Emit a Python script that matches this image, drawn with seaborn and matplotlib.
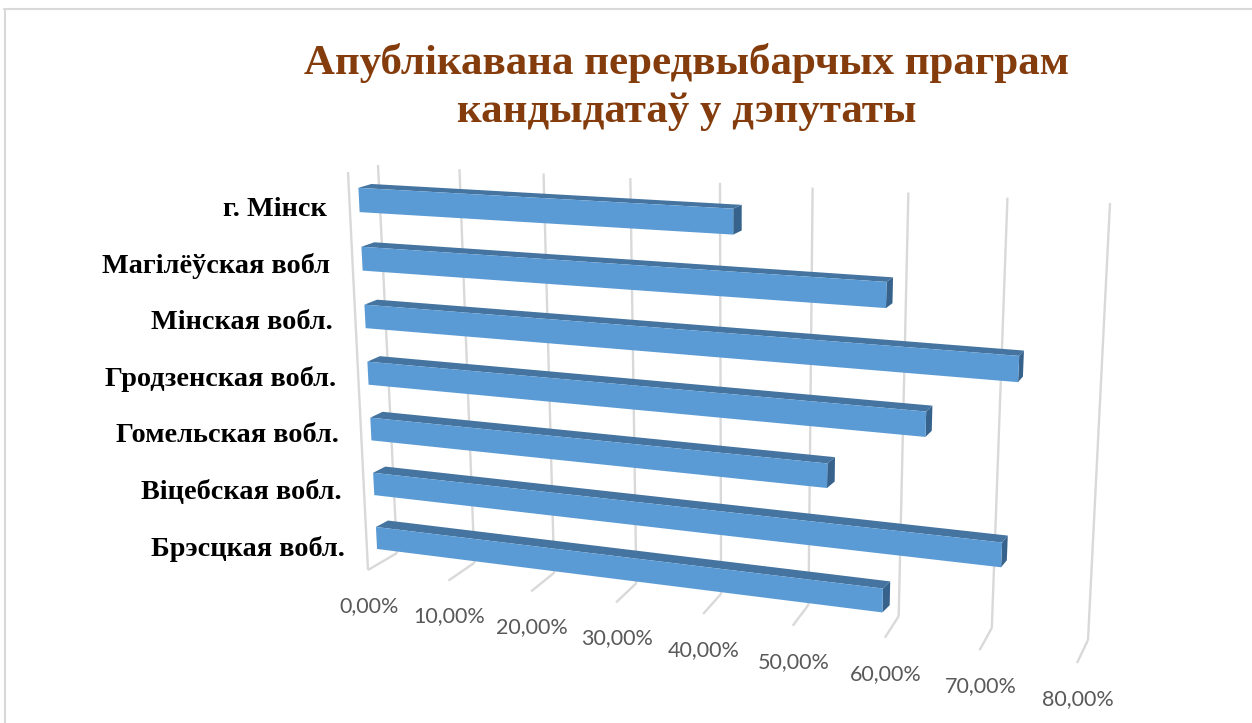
import numpy as np
import pandas as pd
import matplotlib
matplotlib.use("Agg")
import matplotlib.pyplot as plt
from matplotlib.lines import Line2D
from matplotlib.transforms import Transform
import seaborn as sns

# ---------- data ----------
regions = ["г. Мінск", "Магілёўская вобл", "Мінская вобл.", "Гродзенская вобл.",
           "Гомельская вобл.", "Віцебская вобл.", "Брэсцкая вобл."]
shares = [43.0, 59.1, 72.6, 63.5, 53.3, 71.7, 59.5]
tick_values = [0, 10, 20, 30, 40, 50, 60, 70, 80]
tick_labels = ["0,00%", "10,00%", "20,00%", "30,00%", "40,00%", "50,00%", "60,00%", "70,00%", "80,00%"]
title_text = "Апублікавана передвыбарчых праграм\nкандыдатаў у дэпутаты"

# ---------- styles ----------
W, H_PX = 1252, 723
FACE, TOP, SIDE = "#5B9BD5", "#44749F", "#36628C"
GRID = "#D9D9D9"
BAR_W = 0.41


def homography(src, dst):
    A, b = [], []
    for (x, y), (u, v) in zip(src, dst):
        A.append([x, y, 1, 0, 0, 0, -u * x, -u * y]); b.append(u)
        A.append([0, 0, 0, x, y, 1, -v * x, -v * y]); b.append(v)
    h = np.linalg.solve(np.array(A, float), np.array(b, float))
    return np.append(h, 1).reshape(3, 3)


def apply(Hm, xy):
    xy = np.atleast_2d(np.asarray(xy, float))
    p = np.c_[xy, np.ones(len(xy))] @ Hm.T
    return p[:, :2] / p[:, 2:]


class PixelMap(Transform):
    """Maps chart coordinates to image pixels (origin top-left) through a projection."""
    input_dims = output_dims = 2
    is_affine = False
    has_inverse = False

    def __init__(self, fn):
        super().__init__()
        self.fn = fn

    def transform_non_affine(self, values):
        out = np.array(self.fn(np.atleast_2d(np.asarray(values, float))), float)
        out[:, 1] = H_PX - out[:, 1]
        return out


bar_src = [(0, 0), (80, 0), (0, 6), (80, 6)]
H_front = homography(bar_src, [(359, 200), (1102, 243), (376.5, 538), (1081, 625)])
H_back = homography(bar_src, [(372, 196), (1105, 239), (388.5, 531.5), (1086, 617.5)])
unit_src = [(0, 0), (80, 0), (0, 1), (80, 1)]
H_wall = homography(unit_src, [(378, 165), (1110, 203), (397, 553), (1088, 640)])
H_near = homography(unit_src, [(348, 172), (1100, 222), (368, 570), (1077, 663)])


def top_map(a):
    c = np.round(a[:, 1])
    d = (a[:, 1] - (c - BAR_W / 2)) / BAR_W
    edge = np.c_[a[:, 0], c - BAR_W / 2]
    return (1 - d)[:, None] * apply(H_front, edge) + d[:, None] * apply(H_back, edge)


def side_map(a):
    c = np.round(a[:, 1]).astype(int)
    v = np.asarray(shares)[c]
    t = a[:, 0] / v
    edge = np.c_[v, a[:, 1]]
    return (1 - t)[:, None] * apply(H_front, edge) + t[:, None] * apply(H_back, edge)


def floor_map(a):
    t = a[:, 1]
    lo = np.c_[a[:, 0], np.ones(len(a))]
    return (1 - t)[:, None] * apply(H_near, lo) + t[:, None] * apply(H_wall, lo)


def xlabel_map(a):
    p = apply(H_near, np.c_[a[:, 0], np.ones(len(a))])
    p[:, 1] += 36
    p[:, 0] += 1
    return p


def ylabel_map(a):
    return np.c_[327 + 3.0 * a[:, 1], 209 + 56.6 * a[:, 1]]


sns.set_theme(style="white")
plt.rcParams["font.family"] = ["Liberation Serif", "DejaVu Serif"]
fig, ax = plt.subplots(figsize=(W / 100, H_PX / 100), dpi=100)
ax.set_position([0.3, 0.15, 0.6, 0.6])
ax.patch.set_visible(False)

df = pd.DataFrame({"region": regions, "share": shares})

# grid: back wall, floor and near-left edge
for v in tick_values:
    ax.plot([v, v], [0, 1], color=GRID, lw=1.7, transform=PixelMap(lambda a: apply(H_wall, a)),
            clip_on=False, zorder=0.5, solid_capstyle="butt")
    ax.plot([v, v], [0, 1], color=GRID, lw=1.7, transform=PixelMap(floor_map),
            clip_on=False, zorder=0.5, solid_capstyle="butt")
ax.plot([0, 0], [0, 1], color=GRID, lw=1.7, transform=PixelMap(lambda a: apply(H_near, a)),
        clip_on=False, zorder=0.5, solid_capstyle="butt")

# the three visible faces of each 3-D bar
for fn, colour, z in [(side_map, SIDE, 1), (top_map, TOP, 2), (lambda a: apply(H_front, a), FACE, 3)]:
    sns.barplot(data=df, x="share", y="region", orient="h", color=colour, saturation=1,
                width=BAR_W, ax=ax, linewidth=0, edgecolor="none", zorder=z)
    for patch in ax.containers[-1]:
        patch.set_transform(PixelMap(fn))
        patch.set_clip_on(False)

ax.set_xlim(0, 80)
ax.set_xlabel("")
ax.set_ylabel("")
ax.set_xticks(tick_values, tick_labels)
sns.despine(ax=ax, left=True, bottom=True)
ax.tick_params(axis="both", length=0)
ax.xaxis.grid(False)
ax.yaxis.grid(False)
for lab in ax.get_xticklabels():
    lab.set_transform(PixelMap(xlabel_map))
    lab.set(family="Lato", fontsize=15.5, color="#595959", ha="center", va="center")
for lab in ax.get_yticklabels():
    lab.set_transform(PixelMap(ylabel_map))
    lab.set(family="Liberation Serif", fontsize=20.3, fontweight="bold", color="black", ha="right", va="center")

fig.suptitle(title_text, x=687 / W, y=1 - 87 / H_PX, ha="center", va="center", fontsize=31,
             fontweight="bold", color="#843C0C", family="Liberation Serif", linespacing=1.3)

# frame of the chart area
fig.add_artist(Line2D([4.5 / W, 4.5 / W], [0, 1 - 8.5 / H_PX], color=GRID, lw=1.5))
fig.add_artist(Line2D([4 / W, 1], [1 - 8.5 / H_PX] * 2, color=GRID, lw=1.5))

fig.savefig("out.png", dpi=100)
